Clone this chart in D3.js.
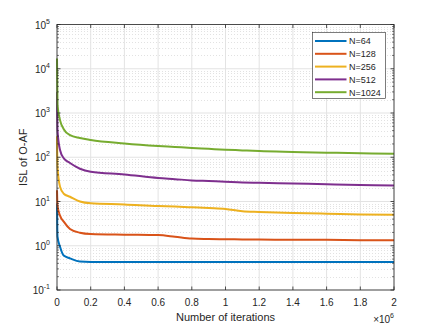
<!DOCTYPE html>
<html>
<head>
<meta charset="utf-8">
<script src="https://cdn.jsdelivr.net/npm/d3@7"></script>
<style>
  body { margin: 0; background: #fff; }
  text { font-family: "Liberation Sans", Arial, sans-serif; fill: #262626; }
</style>
</head>
<body>
<div id="chart"></div>
<script>
// iterations, in units of 1e6
var iterations = [0, 0.003, 0.018, 0.04, 0.077, 0.136, 0.2, 0.4, 0.6, 0.7, 0.8, 0.9, 1.0, 1.1, 1.2, 1.4, 1.6, 1.8, 2.0];

var isl64   = [9, 1.6, 0.95, 0.6, 0.52, 0.44, 0.43, 0.43, 0.43, 0.43, 0.43, 0.43, 0.43, 0.43, 0.43, 0.43, 0.43, 0.43, 0.43];
var isl128  = [18, 8, 4.8, 3.5, 2.4, 1.97, 1.84, 1.78, 1.74, 1.6, 1.45, 1.42, 1.4, 1.39, 1.38, 1.37, 1.36, 1.34, 1.33];
var isl256  = [300, 60, 21.6, 15, 12.8, 10, 9.1, 8.6, 7.9, 7.7, 7.4, 7.1, 6.8, 6.0, 5.8, 5.5, 5.3, 5.1, 5.0];
var isl512  = [3000, 400, 146, 95, 74, 55, 47, 41, 34, 32, 30, 29, 28, 27, 26.5, 25.5, 24.5, 23.7, 23];
var isl1024 = [17000, 1500, 690, 430, 316, 272, 245, 205, 180, 171, 162, 155, 148, 143, 138, 132, 127, 123, 120];

var seriesNames = ["N=64", "N=128", "N=256", "N=512", "N=1024"];
var seriesValues = [isl64, isl128, isl256, isl512, isl1024];
var colors = ["#0072BD", "#D95319", "#EDB120", "#7E2F8E", "#77AC30"];

var xTicks = [0, 0.2, 0.4, 0.6, 0.8, 1, 1.2, 1.4, 1.6, 1.8, 2];
var yExponents = [-1, 0, 1, 2, 3, 4, 5];

(function() {

	//----------------------------
	// Layout
	//----------------------------

	var totwidth = 436, totheight = 327;
	var padLeft = 57, padRight = 394, padTop = 24.5, padBottom = 290;
	var axisColor = "#262626";

	var svg = d3.select("#chart").append("svg")
		.attr("width", totwidth)
		.attr("height", totheight);

	var x = d3.scaleLinear().domain([0, 2]).range([padLeft, padRight]);
	var y = d3.scaleLog().domain([0.1, 1e5]).range([padBottom, padTop]);

	// grid: minor dotted horizontal, major solid

	var minorVals = [];
	yExponents.slice(0, -1).forEach(function(e) {
		for (var k = 2; k <= 9; k++) minorVals.push(k * Math.pow(10, e));
	});

	var grid = svg.append("g").attr("class", "grid");

	grid.selectAll("line.minor")
		.data(minorVals)
		.enter().append("line")
			.attr("class", "minor")
			.attr("x1", padLeft).attr("x2", padRight)
			.attr("y1", function(d) { return Math.round(y(d)) + 0.5; })
			.attr("y2", function(d) { return Math.round(y(d)) + 0.5; })
			.attr("stroke", "#d6d6d6")
			.attr("stroke-width", 0.7)
			.attr("stroke-dasharray", "1,2");

	grid.selectAll("line.ymajor")
		.data(yExponents)
		.enter().append("line")
			.attr("class", "ymajor")
			.attr("x1", padLeft).attr("x2", padRight)
			.attr("y1", function(d) { return y(Math.pow(10, d)); })
			.attr("y2", function(d) { return y(Math.pow(10, d)); })
			.attr("stroke", "#e3e3e3")
			.attr("stroke-width", 1);

	grid.selectAll("line.xmajor")
		.data(xTicks)
		.enter().append("line")
			.attr("class", "xmajor")
			.attr("x1", function(d) { return x(d); })
			.attr("x2", function(d) { return x(d); })
			.attr("y1", padTop).attr("y2", padBottom)
			.attr("stroke", "#e3e3e3")
			.attr("stroke-width", 1);

	// lines

	var line = d3.line()
		.x(function(d) { return x(d[0]); })
		.y(function(d) { return y(d[1]); })
		.curve(d3.curveMonotoneX);

	var plot = svg.append("g").attr("class", "lines");

	seriesValues.forEach(function(vals, i) {
		plot.append("path")
			.datum(iterations.map(function(t, k) { return [t, vals[k]]; }))
			.attr("d", line)
			.attr("fill", "none")
			.attr("stroke", colors[i])
			.attr("stroke-width", 2);
	});

	// axes box with inward ticks

	var axes = svg.append("g").attr("class", "axes");

	axes.append("rect")
		.attr("x", padLeft).attr("y", padTop)
		.attr("width", padRight - padLeft).attr("height", padBottom - padTop)
		.attr("fill", "none")
		.attr("stroke", axisColor)
		.attr("stroke-width", 0.8);

	xTicks.forEach(function(t) {
		axes.append("line").attr("x1", x(t)).attr("x2", x(t)).attr("y1", padBottom).attr("y2", padBottom - 3.5)
			.attr("stroke", axisColor).attr("stroke-width", 0.8);
		axes.append("line").attr("x1", x(t)).attr("x2", x(t)).attr("y1", padTop).attr("y2", padTop + 3.5)
			.attr("stroke", axisColor).attr("stroke-width", 0.8);
	});

	yExponents.forEach(function(e) {
		var yy = y(Math.pow(10, e));
		axes.append("line").attr("x1", padLeft).attr("x2", padLeft + 3.5).attr("y1", yy).attr("y2", yy)
			.attr("stroke", axisColor).attr("stroke-width", 0.8);
		axes.append("line").attr("x1", padRight).attr("x2", padRight - 3.5).attr("y1", yy).attr("y2", yy)
			.attr("stroke", axisColor).attr("stroke-width", 0.8);
	});

	minorVals.forEach(function(v) {
		var yy = y(v);
		axes.append("line").attr("x1", padLeft).attr("x2", padLeft + 2).attr("y1", yy).attr("y2", yy)
			.attr("stroke", axisColor).attr("stroke-width", 0.6);
		axes.append("line").attr("x1", padRight).attr("x2", padRight - 2).attr("y1", yy).attr("y2", yy)
			.attr("stroke", axisColor).attr("stroke-width", 0.6);
	});

	// tick labels

	svg.append("g").selectAll("text")
		.data(xTicks)
		.enter().append("text")
			.attr("x", function(d) { return x(d); })
			.attr("y", padBottom + 16)
			.attr("text-anchor", "middle")
			.attr("font-size", 10)
			.text(function(d) { return d; });

	var ylab = svg.append("g").selectAll("text")
		.data(yExponents)
		.enter().append("text")
			.attr("x", padLeft - 7)
			.attr("y", function(d) { return y(Math.pow(10, d)) + 4; })
			.attr("text-anchor", "end")
			.attr("font-size", 10);
	ylab.append("tspan").text("10");
	ylab.append("tspan")
		.attr("font-size", 7)
		.attr("dy", -5)
		.text(function(d) { return d; });

	// axis labels

	svg.append("text")
		.attr("x", (padLeft + padRight) / 2)
		.attr("y", 321)
		.attr("text-anchor", "middle")
		.attr("font-size", 11)
		.text("Number of iterations");

	var mult = svg.append("text")
		.attr("x", padRight)
		.attr("y", 323)
		.attr("text-anchor", "end")
		.attr("font-size", 10);
	mult.append("tspan").text("\u00d710");
	mult.append("tspan").attr("font-size", 7).attr("dy", -5).text("6");

	svg.append("text")
		.attr("transform", "translate(27," + ((padTop + padBottom) / 2) + ") rotate(-90)")
		.attr("text-anchor", "middle")
		.attr("font-size", 11)
		.text("ISL of O-AF");

	// legend

	var lg = svg.append("g").attr("class", "legend");
	lg.append("rect")
		.attr("x", 312.5).attr("y", 32.5)
		.attr("width", 73).attr("height", 66)
		.attr("fill", "#fff")
		.attr("stroke", "#262626")
		.attr("stroke-width", 0.6);

	seriesNames.forEach(function(name, i) {
		var yy = 41 + i * 12.8;
		lg.append("line")
			.attr("x1", 315).attr("x2", 346.5)
			.attr("y1", yy).attr("y2", yy)
			.attr("stroke", colors[i])
			.attr("stroke-width", 2);
		lg.append("text")
			.attr("x", 349)
			.attr("y", yy + 3.3)
			.attr("font-size", 9)
			.text(name);
	});

})();
</script>
</body>
</html>
